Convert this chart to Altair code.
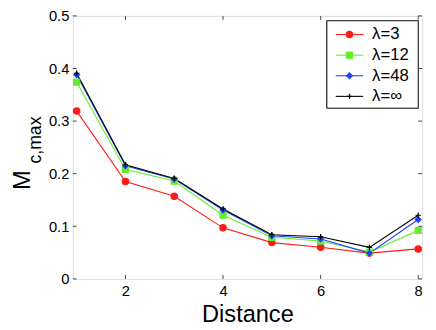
import altair as alt
import pandas as pd

distance = [1, 2, 3, 4, 5, 6, 7, 8]
series_names = ["λ=3", "λ=12", "λ=48", "λ=∞"]
lam3 = [0.319, 0.185, 0.157, 0.097, 0.069, 0.060, 0.049, 0.057]
lam12 = [0.374, 0.208, 0.186, 0.121, 0.079, 0.072, 0.051, 0.092]
lam48 = [0.388, 0.215, 0.190, 0.131, 0.082, 0.076, 0.049, 0.113]
laminf = [0.391, 0.217, 0.191, 0.133, 0.084, 0.080, 0.060, 0.121]
x_ticks = [2, 4, 6, 8]
y_ticks = [0, 0.1, 0.2, 0.3, 0.4, 0.5]

colors = ["#ff1a1a", "#62ee2a", "#2040ff", "#000000"]
fills = ["#ff1a1a", "#62ee2a", "#2040ff", "transparent"]
shapes = ["circle", "square", "diamond", "M-1,0H1M0,-1V1"]
sizes = [42, 30, 48, 45]

rows = []
for name, vals in zip(series_names, [lam3, lam12, lam48, laminf]):
    for d, v in zip(distance, vals):
        rows.append({"Distance": d, "value": v, "series": name})
df = pd.DataFrame(rows)

W, H = 356, 268
FONT = "Liberation Sans"
xdom = [0.92, 8.08]
ydom = [0, 0.5]

xs = alt.Scale(domain=xdom, nice=False, zero=False)
ys = alt.Scale(domain=ydom, nice=False)
col = alt.Scale(domain=series_names, range=colors)
fil = alt.Scale(domain=series_names, range=fills)
shp = alt.Scale(domain=series_names, range=shapes)
siz = alt.Scale(domain=series_names, range=sizes)

base = alt.Chart(df)
lines = base.mark_line(strokeWidth=1.1).encode(
    x=alt.X("Distance:Q", scale=xs,
            axis=alt.Axis(values=x_ticks, ticks=False, tickSize=0, domain=False, grid=False,
                          labelFontSize=15, labelPadding=5, labelFont=FONT, labelColor="black",
                          title="Distance", titleFontSize=24, titleFont=FONT,
                          titleFontWeight="normal", titlePadding=4, titleColor="black")),
    y=alt.Y("value:Q", scale=ys,
            axis=alt.Axis(values=y_ticks, ticks=False, tickSize=0, domain=False, grid=False,
                          labelFontSize=15, labelPadding=4, labelFont=FONT, labelColor="black",
                          labelExpr="datum.value == 0 ? '0' : format(datum.value, '.1f')",
                          title="M", titleFontSize=24, titleFont=FONT, titleFontWeight="normal",
                          titleColor="black", titleAngle=270, titleAlign="left",
                          titleBaseline="alphabetic", titleX=-44, titleY=177)),
    color=alt.Color("series:N", scale=col, legend=None),
)
points = base.mark_point(filled=False, strokeWidth=1.2, opacity=1).encode(
    x=alt.X("Distance:Q", scale=xs),
    y=alt.Y("value:Q", scale=ys, axis=None),
    shape=alt.Shape("series:N", scale=shp, legend=None),
    fill=alt.Fill("series:N", scale=fil, legend=None),
    stroke=alt.Stroke("series:N", scale=col, legend=None),
    size=alt.Size("series:N", scale=siz, legend=None),
)

# inward ticks on all four sides
xt = pd.DataFrame({"t": x_ticks})
yt = pd.DataFrame({"t": y_ticks})
tick_col = "#444444"
tick_bottom = alt.Chart(xt).mark_rule(color=tick_col, strokeWidth=1).encode(
    x=alt.X("t:Q", scale=xs), y=alt.value(H), y2=alt.value(H - 4))
tick_top = alt.Chart(xt).mark_rule(color=tick_col, strokeWidth=1).encode(
    x=alt.X("t:Q", scale=xs), y=alt.value(0), y2=alt.value(4))
tick_left = alt.Chart(yt).mark_rule(color=tick_col, strokeWidth=1).encode(
    y=alt.Y("t:Q", scale=ys, axis=None), x=alt.value(0), x2=alt.value(4))
# the right-side ticks layer carries the subscript of the y title
tick_right = alt.Chart(yt).mark_rule(color=tick_col, strokeWidth=1).encode(
    y=alt.Y("t:Q", scale=ys,
            axis=alt.Axis(orient="right", labels=False, ticks=False, domain=False, grid=False,
                          title="c,max", titleFontSize=18, titleFont=FONT, titleFontWeight="normal",
                          titleColor="black", titleAngle=270, titleAlign="left",
                          titleBaseline="alphabetic", titleX=-(W + 33), titleY=150)),
    x=alt.value(W), x2=alt.value(W - 4))

# legend box
ldf = pd.DataFrame({"series": series_names})
lbox = alt.Chart(ldf).mark_rect(fill="white", stroke="#333333", strokeWidth=1).encode(
    x=alt.value(259), x2=alt.value(352), y=alt.value(5), y2=alt.value(94))
ly = alt.Y("series:N", scale=alt.Scale(type="point", domain=series_names, range=[19, 82], padding=0), axis=None)
lline = alt.Chart(ldf).mark_rule(strokeWidth=1.1).encode(
    x=alt.value(268), x2=alt.value(296), y=ly,
    color=alt.Color("series:N", scale=col, legend=None))
lpt = alt.Chart(ldf).mark_point(filled=False, strokeWidth=1.2, opacity=1).encode(
    x=alt.value(282), y=ly,
    shape=alt.Shape("series:N", scale=shp, legend=None),
    fill=alt.Fill("series:N", scale=fil, legend=None),
    stroke=alt.Stroke("series:N", scale=col, legend=None),
    size=alt.Size("series:N", scale=siz, legend=None),
)
ltext = alt.Chart(ldf).mark_text(align="left", baseline="middle", fontSize=17, font=FONT, color="black").encode(
    x=alt.value(305), y=ly, text="series:N")

chart = alt.layer(
    lines, points, tick_bottom, tick_top, tick_left, tick_right,
    lbox, lline, lpt, ltext
).resolve_scale(y="independent").properties(
    width=W, height=H,
    autosize=alt.AutoSizeParams(type="none"),
    padding={"left": 66, "top": 5, "right": 6, "bottom": 47},
).configure_view(stroke="black", strokeWidth=1).configure(background="white")

chart.save("out.html", embed_options={"renderer": "svg", "actions": False})
